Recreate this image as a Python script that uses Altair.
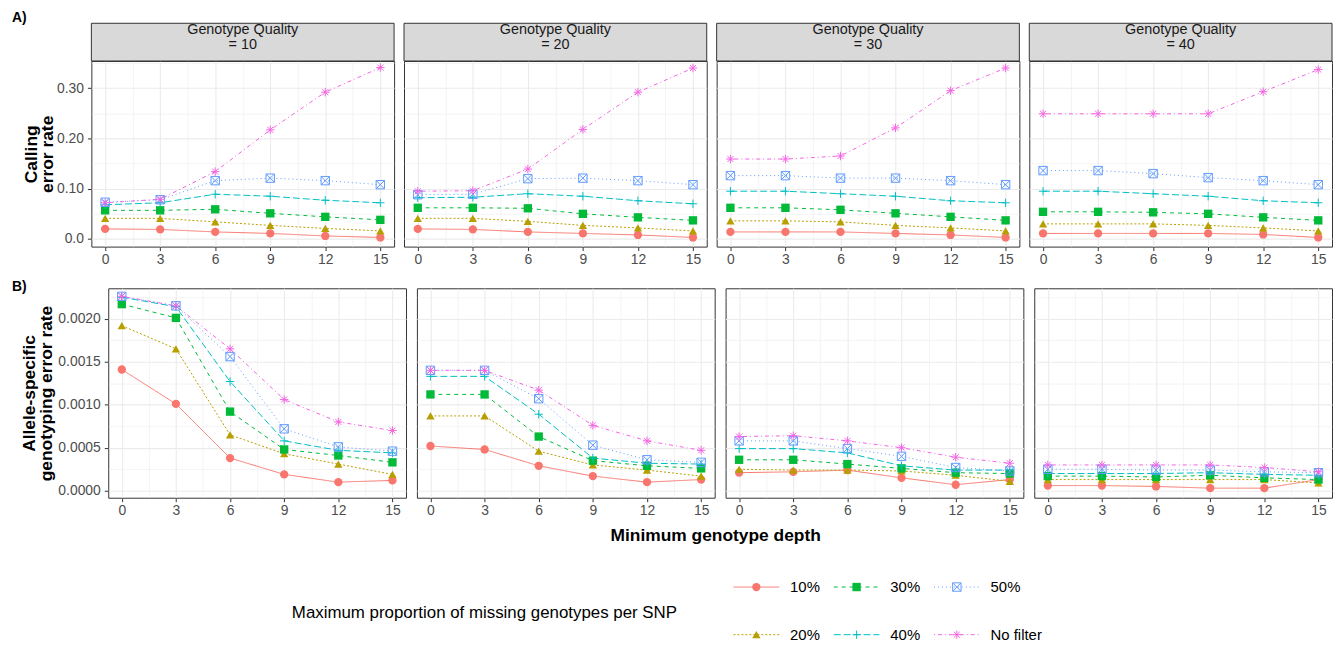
import altair as alt
import pandas as pd

depths = [0, 3, 6, 9, 12, 15]
quality_levels = [10, 20, 30, 40]
series = ["10%", "20%", "30%", "40%", "50%", "No filter"]

# Calling error rate, one list per missing-genotype filter (rows follow `series`)
calling_gq10 = [
    [0.020, 0.019, 0.014, 0.011, 0.006, 0.003],
    [0.041, 0.041, 0.034, 0.027, 0.021, 0.016],
    [0.057, 0.057, 0.059, 0.051, 0.044, 0.038],
    [0.068, 0.072, 0.089, 0.085, 0.077, 0.072],
    [0.073, 0.078, 0.116, 0.121, 0.116, 0.108],
    [0.072, 0.079, 0.134, 0.217, 0.292, 0.341],
]
calling_gq20 = [
    [0.020, 0.019, 0.014, 0.011, 0.008, 0.003],
    [0.041, 0.041, 0.035, 0.027, 0.022, 0.016],
    [0.062, 0.062, 0.061, 0.050, 0.043, 0.037],
    [0.082, 0.083, 0.090, 0.085, 0.076, 0.070],
    [0.088, 0.089, 0.120, 0.121, 0.116, 0.108],
    [0.095, 0.096, 0.139, 0.218, 0.292, 0.340],
]
calling_gq30 = [
    [0.014, 0.014, 0.014, 0.011, 0.008, 0.003],
    [0.036, 0.036, 0.034, 0.027, 0.022, 0.016],
    [0.062, 0.062, 0.058, 0.051, 0.044, 0.037],
    [0.095, 0.095, 0.090, 0.085, 0.076, 0.072],
    [0.126, 0.126, 0.121, 0.121, 0.116, 0.108],
    [0.159, 0.159, 0.165, 0.221, 0.295, 0.340],
]
calling_gq40 = [
    [0.011, 0.011, 0.011, 0.011, 0.009, 0.003],
    [0.030, 0.030, 0.030, 0.027, 0.022, 0.016],
    [0.054, 0.054, 0.053, 0.050, 0.043, 0.037],
    [0.095, 0.095, 0.090, 0.085, 0.076, 0.072],
    [0.136, 0.136, 0.130, 0.122, 0.116, 0.108],
    [0.249, 0.249, 0.249, 0.249, 0.293, 0.337],
]

# Allele-specific genotyping error rate
allele_gq10 = [
    [0.00141, 0.00101, 0.00038, 0.00019, 0.00010, 0.00012],
    [0.00192, 0.00165, 0.00065, 0.00043, 0.00031, 0.00019],
    [0.00217, 0.00201, 0.00092, 0.00048, 0.00041, 0.00033],
    [0.00225, 0.00214, 0.00127, 0.00058, 0.00047, 0.00044],
    [0.00226, 0.00215, 0.00156, 0.00072, 0.00051, 0.00046],
    [0.00226, 0.00215, 0.00165, 0.00106, 0.00080, 0.00070],
]
allele_gq20 = [
    [0.00052, 0.00048, 0.00029, 0.00017, 0.00010, 0.00013],
    [0.00087, 0.00087, 0.00046, 0.00030, 0.00024, 0.00017],
    [0.00112, 0.00112, 0.00063, 0.00035, 0.00029, 0.00026],
    [0.00133, 0.00133, 0.00089, 0.00038, 0.00032, 0.00031],
    [0.00140, 0.00140, 0.00107, 0.00053, 0.00036, 0.00033],
    [0.00140, 0.00140, 0.00117, 0.00076, 0.00058, 0.00047],
]
allele_gq30 = [
    [0.00021, 0.00022, 0.00024, 0.00015, 0.00007, 0.00013],
    [0.00025, 0.00024, 0.00024, 0.00023, 0.00018, 0.00011],
    [0.00036, 0.00036, 0.00031, 0.00026, 0.00021, 0.00020],
    [0.00049, 0.00049, 0.00044, 0.00029, 0.00024, 0.00024],
    [0.00058, 0.00058, 0.00049, 0.00040, 0.00027, 0.00023],
    [0.00063, 0.00064, 0.00058, 0.00050, 0.00039, 0.00032],
]
allele_gq40 = [
    [0.00006, 0.00006, 0.00005, 0.00003, 0.00003, 0.00013],
    [0.00013, 0.00013, 0.00013, 0.00013, 0.00013, 0.00009],
    [0.00017, 0.00017, 0.00016, 0.00018, 0.00015, 0.00013],
    [0.00020, 0.00020, 0.00020, 0.00021, 0.00019, 0.00018],
    [0.00025, 0.00025, 0.00024, 0.00024, 0.00022, 0.00021],
    [0.00030, 0.00030, 0.00030, 0.00030, 0.00027, 0.00022],
]

x_ticks = [0, 1.5, 3, 4.5, 6, 7.5, 9, 10.5, 12, 13.5, 15]
calling_ticks = [0, 0.05, 0.1, 0.15, 0.2, 0.25, 0.3, 0.35]
allele_ticks = [0, 0.00025, 0.0005, 0.00075, 0.001, 0.00125, 0.0015, 0.00175, 0.002, 0.00225]

# styles
colors = ["#F8766D", "#B79F00", "#00BA38", "#00BFC4", "#619CFF", "#F564E3"]
dashes = [[1, 0], [2, 2], [4, 4], [7, 3], [1, 3], [1, 3, 4, 3]]
shapes = [
    "circle",
    "triangle-up",
    "square",
    "M-1,0L1,0M0,-1L0,1",
    "M-1,-1L1,-1L1,1L-1,1ZM-1,-1L1,1M-1,1L1,-1",
    "M-1,0L1,0M0,-1L0,1M-0.71,-0.71L0.71,0.71M-0.71,0.71L0.71,-0.71",
]
sizes = [70, 72, 56, 80, 64, 96]

FONT = "Liberation Sans"
GRID = "#EBEBEB"
NOSTROKE = alt.ViewBackground(stroke="transparent")


def long_df(rows):
    recs = []
    for s, vals in zip(series, rows):
        for d, v in zip(depths, vals):
            recs.append({"series": s, "depth": d, "value": v})
    return pd.DataFrame(recs)


color_enc = alt.Color("series:N", scale=alt.Scale(domain=series, range=colors), legend=None)
dash_enc = alt.StrokeDash("series:N", scale=alt.Scale(domain=series, range=dashes), legend=None)
shape_enc = alt.Shape("series:N", scale=alt.Scale(domain=series, range=shapes), legend=None)
size_enc = alt.Size("series:N", scale=alt.Scale(domain=series, range=sizes), legend=None)


def x_axis():
    minor = "datum.value % 3 != 0"
    return alt.Axis(
        values=x_ticks,
        labelExpr="datum.value % 3 == 0 ? format(datum.value, 'd') : ''",
        title=None,
        domain=False,
        grid=True,
        gridColor=GRID,
        gridWidth={"condition": {"test": minor, "value": 0.55}, "value": 1.1},
        tickOpacity={"condition": {"test": minor, "value": 0}, "value": 1},
        tickColor="#333333",
        tickSize=4,
        tickWidth=1,
        labelColor="#4D4D4D",
        labelFontSize=14,
        labelPadding=2,
        labelOverlap=False,
        labelFlush=False,
    )


def y_axis(ticks, minor, label_expr, first, title, tpad, tlh):
    common = dict(
        values=ticks,
        domain=False,
        grid=True,
        gridColor=GRID,
        gridWidth={"condition": {"test": minor, "value": 0.55}, "value": 1.1},
    )
    if first:
        return alt.Axis(
            labelExpr=label_expr,
            tickOpacity={"condition": {"test": minor, "value": 0}, "value": 1},
            tickColor="#333333",
            tickSize=4,
            tickWidth=1,
            labelColor="#4D4D4D",
            labelFontSize=14,
            labelPadding=4,
            labelOverlap=False,
            labelFlush=False,
            title=title,
            titleFontSize=17.5,
            titleFontWeight="bold",
            titleColor="#000000",
            titlePadding=tpad,
            titleLineHeight=tlh,
            **common,
        )
    return alt.Axis(labels=False, ticks=False, title=None, **common)


def panel(rows, gq, first, row_a):
    df = long_df(rows)
    width = 305 if row_a else 300
    height = 187 if row_a else 211
    if row_a:
        yscale = alt.Scale(domain=[-0.0152, 0.354], nice=False, zero=False)
        minor = "round(datum.value * 100) % 10 != 0"
        lexpr = ("round(datum.value * 100) % 10 != 0 ? '' : "
                 "(datum.value == 0 ? '0.0' : format(datum.value, '.2f'))")
        ax = y_axis(calling_ticks, minor, lexpr, first, ["Calling", "error rate"], 0, 16)
    else:
        yscale = alt.Scale(domain=[-0.000081, 0.002354], nice=False, zero=False)
        minor = "round(datum.value * 100000) % 50 != 0"
        lexpr = ("round(datum.value * 100000) % 50 != 0 ? '' : "
                 "format(datum.value, '.4f')")
        ax = y_axis(allele_ticks, minor, lexpr, first,
                    ["Allele-specific", "genotyping error rate"], 2, 17)

    base = alt.Chart(df).encode(
        x=alt.X("depth:Q", scale=alt.Scale(domain=[-0.75, 15.75], nice=False, zero=False), axis=x_axis()),
        y=alt.Y("value:Q", scale=yscale, axis=ax),
        color=color_enc,
    )
    lines = base.mark_line(strokeWidth=1).encode(strokeDash=dash_enc)
    pts_f = base.mark_point(filled=True, opacity=1).encode(shape=shape_enc, size=size_enc).transform_filter(
        alt.FieldOneOfPredicate(field="series", oneOf=series[:3]))
    pts_o = base.mark_point(filled=False, opacity=1, strokeWidth=1).encode(shape=shape_enc, size=size_enc).transform_filter(
        alt.FieldOneOfPredicate(field="series", oneOf=series[3:]))
    layers = []
    if row_a:
        sdf = pd.DataFrame({"label": ["Genotype Quality\n= " + str(gq)]})
        strip = alt.Chart(sdf).mark_rect(fill="#D9D9D9", stroke="#333333", strokeWidth=1).encode(
            x=alt.value(0), x2=alt.value(width), y=alt.value(-38), y2=alt.value(0))
        stxt = alt.Chart(sdf).mark_text(lineBreak="\n", fontSize=14.5, color="#1A1A1A",
                                        lineHeight=15, baseline="middle", align="center").encode(
            text="label:N", x=alt.value(width / 2), y=alt.value(-31))
        layers += [strip, stxt]
    layers += [lines, pts_f, pts_o]
    if first:
        ldf = pd.DataFrame({"t": ["A)" if row_a else "B)"]})
        letter = alt.Chart(ldf).mark_text(align="left", baseline="top", fontSize=14,
                                          fontWeight="bold", color="#000000").encode(
            text="t:N",
            x=alt.value(-80 if row_a else -97),
            y=alt.value(-50 if row_a else -8))
        layers.append(letter)
    return alt.layer(*layers).properties(width=width, height=height)


def spacer():
    sdf = pd.DataFrame({"a": [0]})
    return alt.Chart(sdf).mark_rule(strokeOpacity=0, strokeWidth=0).encode(
        x=alt.value(0), x2=alt.value(1), y=alt.value(0)).properties(width=1, height=1, view=NOSTROKE)


top_panels = alt.hconcat(
    *[panel(r, g, i == 0, True) for i, (r, g) in
      enumerate(zip([calling_gq10, calling_gq20, calling_gq30, calling_gq40], quality_levels))],
    spacing=8,
)
bottom_panels = alt.hconcat(
    *[panel(r, g, i == 0, False) for i, (r, g) in
      enumerate(zip([allele_gq10, allele_gq20, allele_gq30, allele_gq40], quality_levels))],
    spacing=9,
)
top_row = alt.hconcat(spacer(), top_panels, spacing=0)
bottom_row = alt.hconcat(spacer(), bottom_panels, spacing=0)

# Legend (2 rows x 3 columns, filled column-wise like ggplot)
leg = pd.DataFrame({
    "series": series,
    "col": [i // 2 for i in range(len(series))],
    "row": [i % 2 for i in range(len(series))],
})
lx = alt.X("col:Q", scale=alt.Scale(domain=[0, 2], range=[753, 955]), axis=None)
ly = alt.Y("row:Q", scale=alt.Scale(domain=[0, 1], range=[60, 108]), axis=None)
lbase = alt.Chart(leg).encode(x=lx, y=ly, color=color_enc)
leg_lines = lbase.mark_rule(strokeWidth=1, xOffset=-23, x2Offset=23).encode(
    x2=alt.X2("col"), strokeDash=dash_enc)
leg_pf = lbase.mark_point(filled=True, opacity=1).encode(shape=shape_enc, size=size_enc).transform_filter(
    alt.FieldOneOfPredicate(field="series", oneOf=series[:3]))
leg_po = lbase.mark_point(filled=False, opacity=1, strokeWidth=1).encode(shape=shape_enc, size=size_enc).transform_filter(
    alt.FieldOneOfPredicate(field="series", oneOf=series[3:]))
leg_txt = alt.Chart(leg).mark_text(align="left", baseline="middle", fontSize=15, dx=34, color="#000000").encode(
    x=lx, y=ly, text="series:N")
tdf = pd.DataFrame({"t": ["Maximum proportion of missing genotypes per SNP"]})
leg_title = alt.Chart(tdf).mark_text(align="left", baseline="middle", fontSize=17, color="#000000").encode(
    text="t:N", x=alt.value(285), y=alt.value(86))
xdf = pd.DataFrame({"t": ["Minimum genotype depth"]})
x_title = alt.Chart(xdf).mark_text(align="center", baseline="middle", fontSize=17.5,
                                   fontWeight="bold", color="#000000").encode(
    text="t:N", x=alt.value(712), y=alt.value(9))
legend = alt.layer(x_title, leg_title, leg_lines, leg_pf, leg_po, leg_txt).properties(
    width=1200, height=100, view=NOSTROKE)

chart = alt.vconcat(
    top_row,
    alt.vconcat(bottom_row, legend, spacing=8),
    spacing=12,
).properties(padding=0, background="white").configure(font=FONT).configure_view(
    stroke="#333333", strokeWidth=1)

chart.save("out.html", embed_options={"renderer": "svg", "actions": False})
